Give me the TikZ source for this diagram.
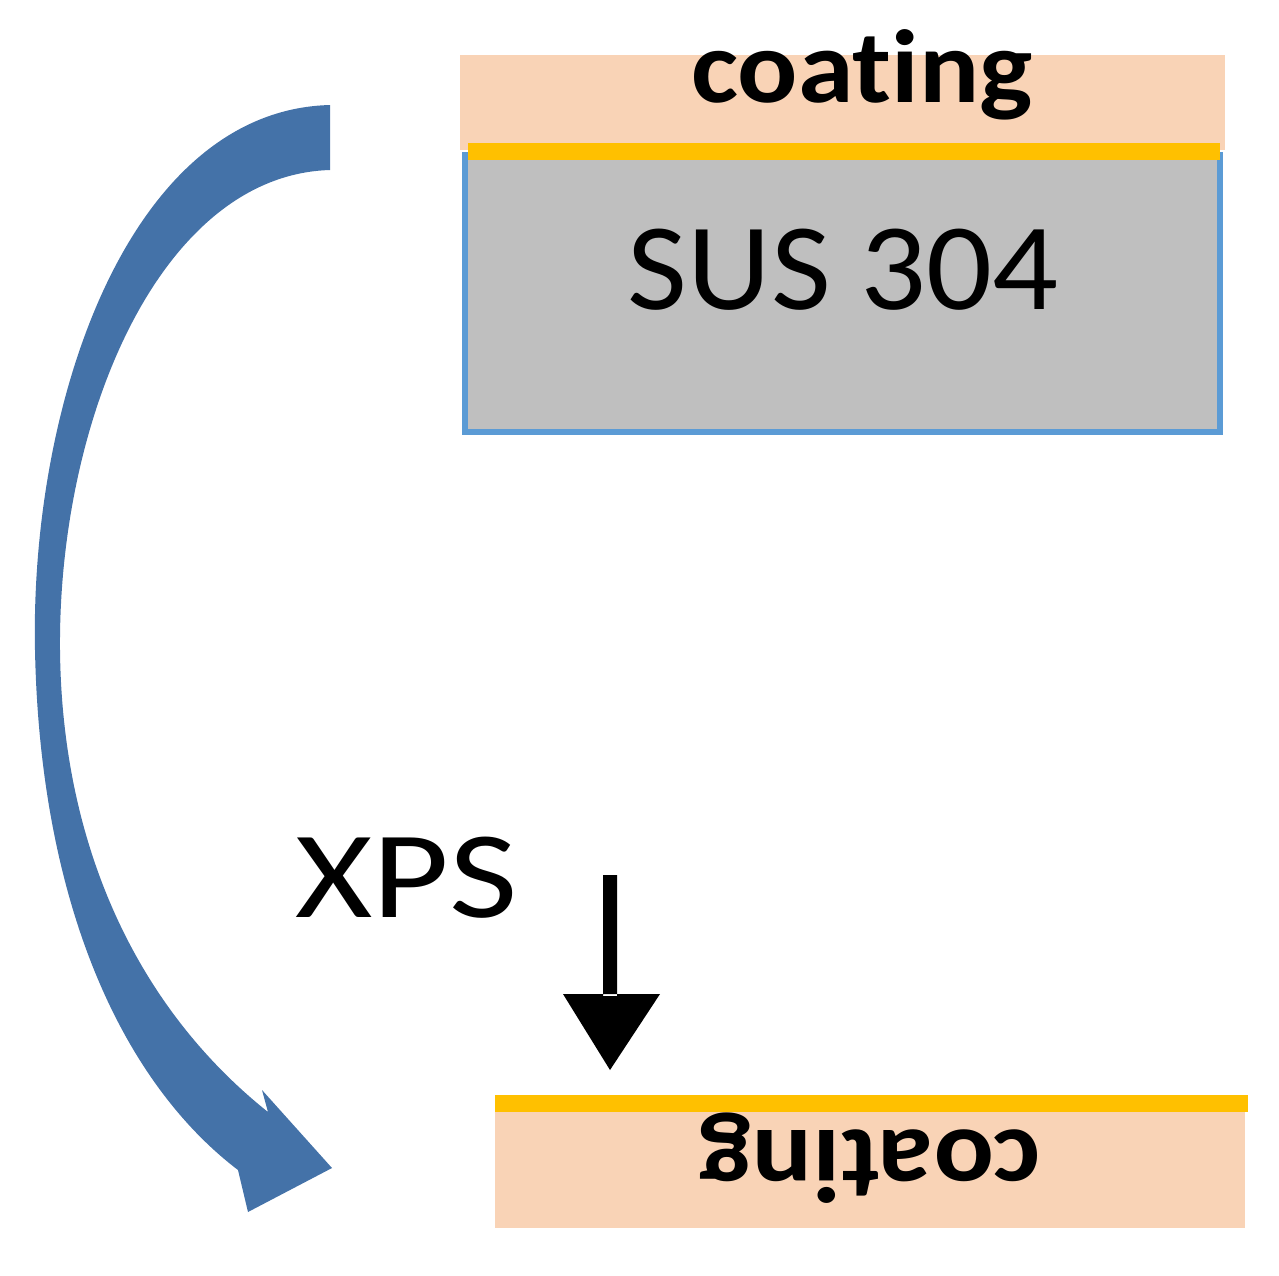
\documentclass[tikz,border=0pt]{standalone}
\usepackage{fontspec}
\setmainfont[Ligatures=NoCommon]{Carlito}
\definecolor{peach}{HTML}{F9D3B6}
\definecolor{gold}{HTML}{FFC000}
\definecolor{steel}{HTML}{BFBFBF}
\definecolor{bord}{HTML}{5B9BD5}
\definecolor{arr}{HTML}{4472A8}
\begin{document}
\begin{tikzpicture}[x=0.5pt,y=-0.5pt]
\useasboundingbox (0,0) rectangle (1279,1275);
\fill[peach] (460,55) rectangle (1225,150);
\node[font=\bfseries\fontsize{52}{52}\selectfont,xscale=1.08] (c1) at (862,75) {coat{}ing};
\draw[bord,fill=steel,line width=3pt] (465,155) rectangle (1220,432);
\fill[gold] (468,143) rectangle (1220,160);
\node[font=\fontsize{62}{62}\selectfont,xscale=1.05] (sus) at (843,270) {SUS 304};
\node[font=\fontsize{62}{62}\selectfont,xscale=1.2] (xps) at (407,878) {XPS};
\fill (603,875) rectangle (617,996) (563,994) -- (660,994) -- (610,1070) -- cycle;
\fill[gold] (495,1095) rectangle (1248,1112);
\fill[peach] (495,1112) rectangle (1245,1228);
\node[font=\bfseries\fontsize{52}{52}\selectfont,rotate=180,xscale=1.08] (c2) at (870,1158) {coat{}ing};
\fill[arr] (330,105) .. controls (130,110) and (30,400) .. (35,650) .. controls (40,900) and (120,1080) .. (238,1170) -- (248,1212) -- (332,1168) -- (262,1090) -- (268,1112) .. controls (140,1010) and (62,850) .. (60,650) .. controls (58,420) and (160,175) .. (330,170) -- cycle;
\end{tikzpicture}
\end{document}
